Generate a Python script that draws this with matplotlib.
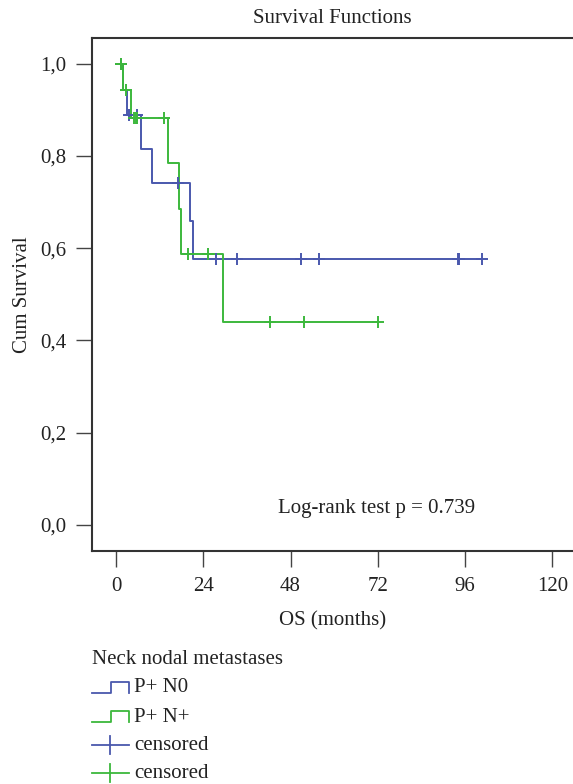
import matplotlib
matplotlib.use("Agg")
import matplotlib.pyplot as plt
from matplotlib.lines import Line2D

plt.rcParams['font.family'] = ['Liberation Serif', 'DejaVu Serif']

# step curves (time in months, survival after the step)
n0_time = [0, 1.8, 2.9, 7.0, 9.8, 20.4, 21.3]
n0_surv = [1.0, 0.944, 0.889, 0.816, 0.741, 0.659, 0.576]
n0_end = 100.8
n0_cens = [1.4, 3.6, 5.9, 17.1, 27.4, 33.4, 50.8, 55.8, 94.0, 94.4, 100.8]

np_time = [0, 1.8, 4.0, 14.2, 17.2, 18.0, 29.4]
np_surv = [1.0, 0.944, 0.882, 0.784, 0.685, 0.587, 0.440]
np_end = 72.0
np_cens = [1.4, 2.7, 4.9, 5.4, 5.7, 13.2, 19.7, 25.4, 42.4, 51.7, 72.0]

x_ticks = [0, 24, 48, 72, 96, 120]
y_ticks = [0.0, 0.2, 0.4, 0.6, 0.8, 1.0]

BLUE = '#4a58ad'
GREEN = '#3cb83c'
TXT = '#222222'
FS = 15


def surv_at(times, survs, t):
    s = survs[0]
    for ti, si in zip(times, survs):
        if ti <= t:
            s = si
    return s


def draw_group(ax, times, survs, end, cens, color):
    xs = list(times) + [end]
    ys = list(survs) + [survs[-1]]
    ax.step(xs, ys, where='post', color=color, lw=1.4, zorder=3)
    cy = [surv_at(times, survs, t) for t in cens]
    ax.plot(cens, cy, ls='none', marker='+', ms=9, mew=1.4, color=color, zorder=4)


W, H = 573, 784
fig = plt.figure(figsize=(W / 100, H / 100), dpi=100)
ax = fig.add_axes([92 / W, 1 - 551 / H, (W - 92) / W, (551 - 38) / H])

draw_group(ax, n0_time, n0_surv, n0_end, n0_cens, BLUE)
draw_group(ax, np_time, np_surv, np_end, np_cens, GREEN)

ax.set_xlim(-6.6, 125.7)
ax.set_ylim(-0.057, 1.056)
ax.set_xticks(x_ticks)
ax.set_xticklabels([str(t) for t in x_ticks])
ax.set_yticks(y_ticks)
ax.set_yticklabels([f"{v:.1f}".replace('.', ',') for v in y_ticks])
ax.tick_params(axis='both', length=11.5, width=1.0, color='#444444',
               labelsize=FS, labelcolor=TXT)
ax.tick_params(axis='y', pad=7)
ax.tick_params(axis='x', pad=7)
for side in ['left', 'bottom', 'top']:
    ax.spines[side].set_linewidth(1.5)
    ax.spines[side].set_color('#333333')
ax.spines['right'].set_visible(False)

ax.set_xlabel('OS (months)', fontsize=FS, color=TXT, labelpad=11)
ax.set_ylabel('Cum Survival', fontsize=FS, color=TXT, labelpad=6)
ax.set_title('Survival Functions', fontsize=FS, color=TXT, pad=11)

ax.text(44.6, 0.036, 'Log-rank test p = 0.739', fontsize=FS, color=TXT,
        ha='left', va='center')

# legend drawn below the chart in pixel units
lg = fig.add_axes([0, 0, 1, 1], facecolor='none')
lg.set_xlim(0, W)
lg.set_ylim(H, 0)
lg.axis('off')
lg.text(92, 660, 'Neck nodal metastases', fontsize=FS, color=TXT, va='center')

for yc, col, lab in [(687, BLUE, 'P+ N0'), (716, GREEN, 'P+ N+')]:
    lg.add_line(Line2D([92, 111, 111, 129, 129], [yc + 6, yc + 6, yc - 5, yc - 5, yc + 6],
                       color=col, lw=1.3))
    lg.text(134, yc + 1, lab, fontsize=FS, color=TXT, va='center')

for yc, col in [(745, BLUE), (773, GREEN)]:
    lg.add_line(Line2D([92, 129], [yc, yc], color=col, lw=1.3))
    lg.add_line(Line2D([110, 110], [yc - 9, yc + 9], color=col, lw=1.3))
    lg.text(134, yc + 1, 'censored', fontsize=FS, color=TXT, va='center')

fig.savefig('out.png', dpi=100)
